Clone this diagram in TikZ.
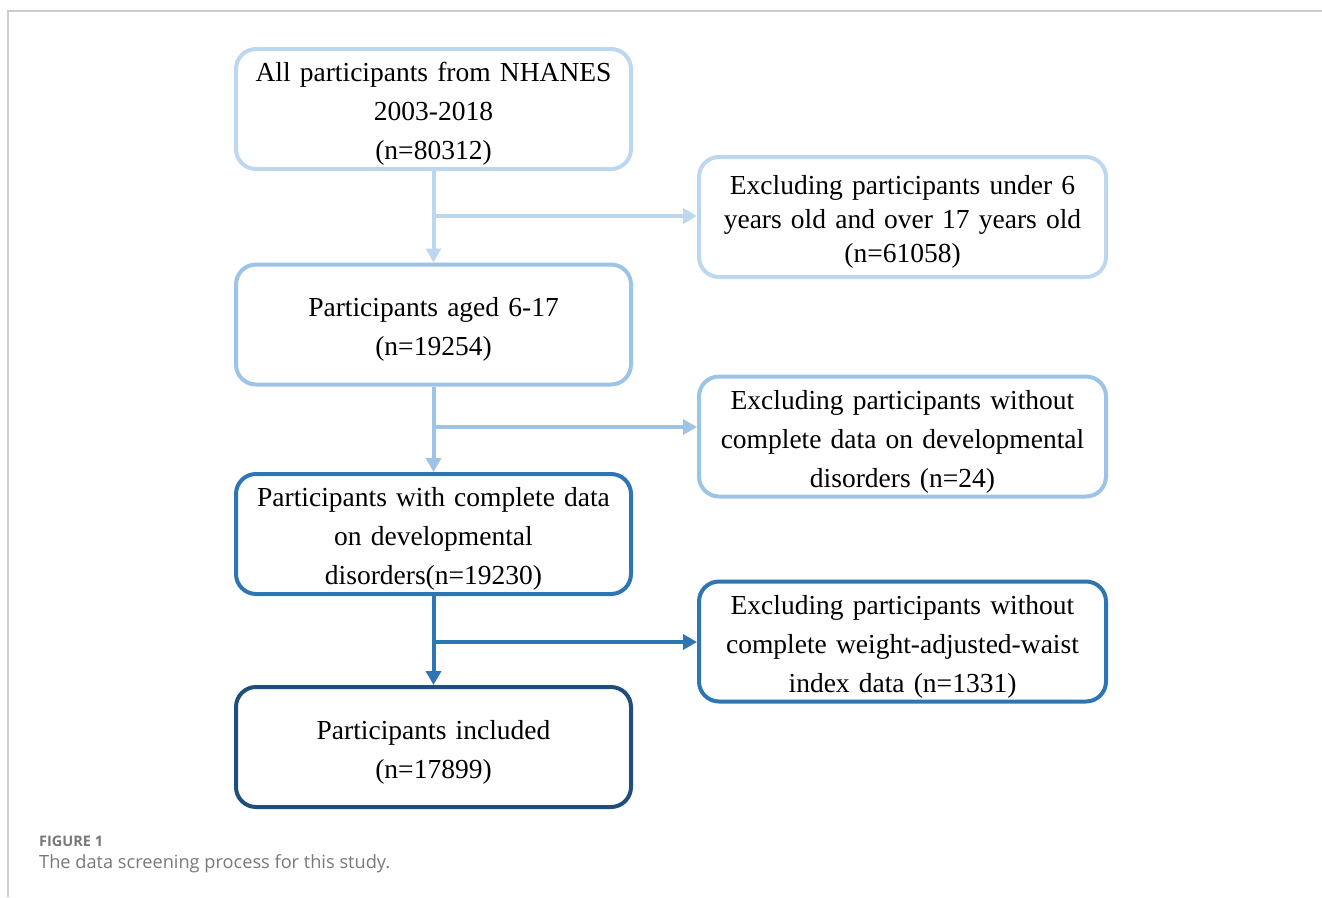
\documentclass[tikz,border=0pt]{standalone}
\usepackage{fontspec}
\setmainfont{Liberation Serif}
\newfontfamily\capfont{Open Sans}
\usetikzlibrary{arrows.meta}
\definecolor{cA}{RGB}{189,215,238}
\definecolor{cB}{RGB}{157,195,230}
\definecolor{cC}{RGB}{46,117,182}
\definecolor{cD}{RGB}{31,78,121}
\definecolor{frameg}{RGB}{205,205,205}
\definecolor{capg}{RGB}{120,120,120}
\begin{document}
\begin{tikzpicture}[x=1pt,y=-1pt,
  box/.style={draw, rectangle, rounded corners=20pt, line width=4pt, inner sep=0pt,
    align=center, text=black, font=\fontsize{27.5}{39}\selectfont,
    execute at begin node={\rule{0pt}{29pt}}},
  lbox/.style={box, minimum width=395pt, minimum height=120pt, text width=390pt},
  rbox/.style={box, minimum width=407pt, minimum height=120pt, text width=400pt},
  arr/.style={line width=4pt, -{Triangle[length=14pt,width=15pt]}}]
\useasboundingbox (0,0) rectangle (1322,897);
\draw[frameg, line width=1.5pt] (7,11) -- (1322,11);
\draw[frameg, line width=1.5pt] (8,11) -- (8,897);

\node[lbox, draw=cA] (b1) at (433.5,109) {All participants from NHANES\\2003-2018\\(n=80312)};
\node[lbox, draw=cB] (b2) at (433.5,324.5) {Participants aged 6-17\\(n=19254)};
\node[lbox, draw=cC] (b3) at (433.5,534) {Participants with complete data\\on developmental\\disorders(n=19230)};
\node[lbox, draw=cD] (b4) at (433.5,747) {Participants included\\(n=17899)};

\node[rbox, draw=cA, font=\fontsize{27.5}{34}\selectfont] (r1) at (902.5,217) {Excluding participants under 6\\years old and over 17 years old\\(n=61058)};
\node[rbox, draw=cB] (r2) at (902.5,436.5) {Excluding participants without\\complete data on developmental\\disorders (n=24)};
\node[rbox, draw=cC] (r3) at (902.5,641.5) {Excluding participants without\\complete weight-adjusted-waist\\index data (n=1331)};

\coordinate (k1) at (433.5,216);
\coordinate (k2) at (433.5,427);
\coordinate (k3) at (433.5,642);

\draw[arr, cA] (b1.south) -- (b2.north);
\draw[arr, cA] (k1) -- (k1 -| r1.west);
\draw[arr, cB] (b2.south) -- (b3.north);
\draw[arr, cB] (k2) -- (k2 -| r2.west);
\draw[arr, cC] (b3.south) -- (b4.north);
\draw[arr, cC] (k3) -- (k3 -| r3.west);

\node[anchor=west, inner sep=0pt, text=capg, font=\capfont\bfseries\fontsize{14.5}{16}\selectfont] (f1) at (39,841) {FIGURE 1};
\node[anchor=west, inner sep=0pt, text=capg, font=\capfont\fontsize{18.2}{21}\selectfont] (f2) at (39,864) {The data screening process for this study.};
\end{tikzpicture}
\end{document}
